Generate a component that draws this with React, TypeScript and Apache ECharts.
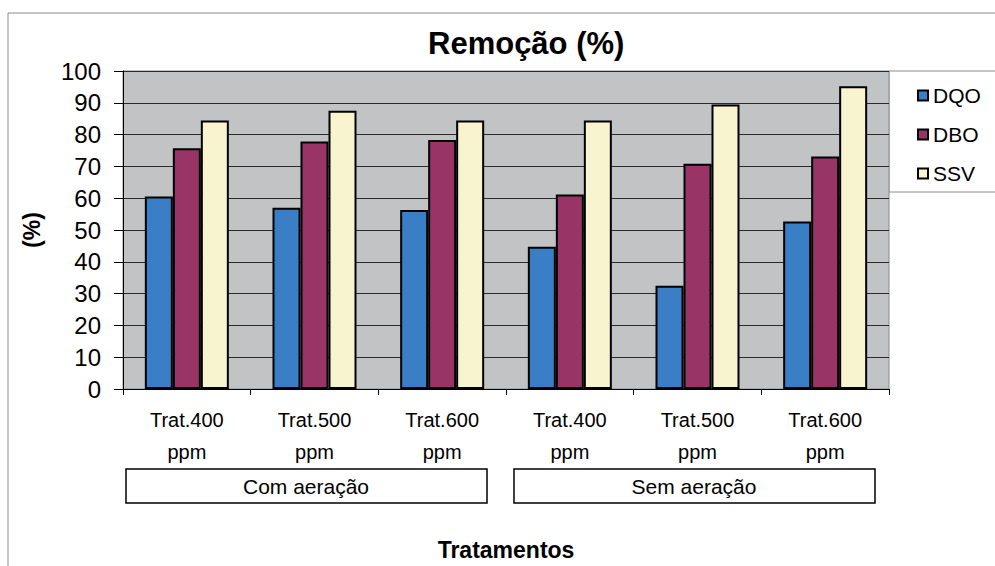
import React, { useEffect, useRef } from "react";
import * as echarts from "echarts";

const categories = ["Trat.400\nppm", "Trat.500\nppm", "Trat.600\nppm", "Trat.400\nppm", "Trat.500\nppm", "Trat.600\nppm"];
const groups = ["Com aeração", "Sem aeração"];
const seriesNames = ["DQO", "DBO", "SSV"];
const dqo = [60.5, 57, 56.3, 44.7, 32.5, 52.7];
const dbo = [75.7, 77.8, 78.3, 61.2, 70.8, 73.1];
const ssv = [84.4, 87.5, 84.4, 84.4, 89.5, 95.2];
const colors = ["#3a7fc6", "#983466", "#f8f4cf"];

const FONT = "'Liberation Sans', Arial, sans-serif";

export default function App() {
  const ref = useRef<HTMLDivElement>(null);
  useEffect(() => {
    if (!ref.current) return;
    const chart = echarts.init(ref.current, null, { renderer: "svg" });
    const values = [dqo, dbo, ssv];
    chart.setOption({
      animation: false,
      backgroundColor: "#ffffff",
      title: {
        text: "Remoção (%)",
        left: 423,
        top: 23,
        textStyle: { fontFamily: FONT, fontSize: 31, fontWeight: "bold", color: "#000" },
      },
      legend: {
        orient: "vertical",
        left: 912,
        top: 80,
        itemWidth: 10,
        itemHeight: 10,
        itemGap: 18,
        icon: "rect",
        textStyle: { fontFamily: FONT, fontSize: 21, color: "#000" },
        data: seriesNames,
      },
      grid: {
        left: 123,
        top: 71,
        right: 106,
        bottom: 177,
        outerBoundsMode: "none",
        containLabel: false,
        show: true,
        backgroundColor: "#c1c3c4",
        borderColor: "#8a8a8a",
        borderWidth: 1,
      },
      xAxis: {
        type: "category",
        data: categories,
        name: "Tratamentos",
        nameLocation: "middle",
        nameGap: 149,
        nameTextStyle: { fontFamily: FONT, fontSize: 23, fontWeight: "bold", color: "#000" },
        axisLine: { lineStyle: { color: "#000", width: 1 } },
        axisTick: { show: true, length: 6, inside: false, lineStyle: { color: "#000" } },
        axisLabel: {
          fontFamily: FONT,
          fontSize: 20,
          color: "#000",
          lineHeight: 32,
          margin: 15,
          interval: 0,
        },
      },
      yAxis: {
        type: "value",
        min: 0,
        max: 100,
        interval: 10,
        name: "(%)",
        nameLocation: "middle",
        nameRotate: 90,
        nameGap: 80,
        nameTextStyle: { fontFamily: FONT, fontSize: 23, fontWeight: "bold", color: "#000" },
        axisLine: { show: true, lineStyle: { color: "#000", width: 1 } },
        axisTick: { show: true, length: 9, lineStyle: { color: "#000" } },
        axisLabel: { fontFamily: FONT, fontSize: 24, color: "#000", margin: 22 },
        splitLine: { show: true, lineStyle: { color: "#2a2a2a", width: 1 } },
      },
      series: seriesNames.map((name, i) => ({
        name,
        type: "bar",
        data: values[i],
        barWidth: 28,
        barGap: "0%",
        itemStyle: { color: colors[i], borderColor: "#000", borderWidth: 2 },
      })),
      graphic: [
        {
          type: "rect",
          shape: { x: 8, y: 13, width: 1000, height: 600 },
          style: { fill: "none", stroke: "#8c8c8c", lineWidth: 1 },
          z: -10,
        },
        {
          type: "rect",
          shape: { x: 889, y: 71, width: 120, height: 121 },
          style: { fill: "#fff", stroke: "#8c8c8c", lineWidth: 1 },
          z: -1,
        },
        {
          type: "rect",
          shape: { x: 126, y: 469, width: 361, height: 34 },
          style: { fill: "#fff", stroke: "#000", lineWidth: 1.5 },
        },
        {
          type: "text",
          x: 306,
          y: 486,
          style: { text: groups[0], fontFamily: FONT, fontSize: 21, fill: "#000", align: "center", verticalAlign: "middle" },
        },
        {
          type: "rect",
          shape: { x: 514, y: 469, width: 361, height: 34 },
          style: { fill: "#fff", stroke: "#000", lineWidth: 1.5 },
        },
        {
          type: "text",
          x: 694,
          y: 486,
          style: { text: groups[1], fontFamily: FONT, fontSize: 21, fill: "#000", align: "center", verticalAlign: "middle" },
        },
      ],
    });
    return () => chart.dispose();
  }, []);
  return <div ref={ref} style={{ position: "fixed", left: 0, top: 0, width: 995, height: 566 }} />;
}
